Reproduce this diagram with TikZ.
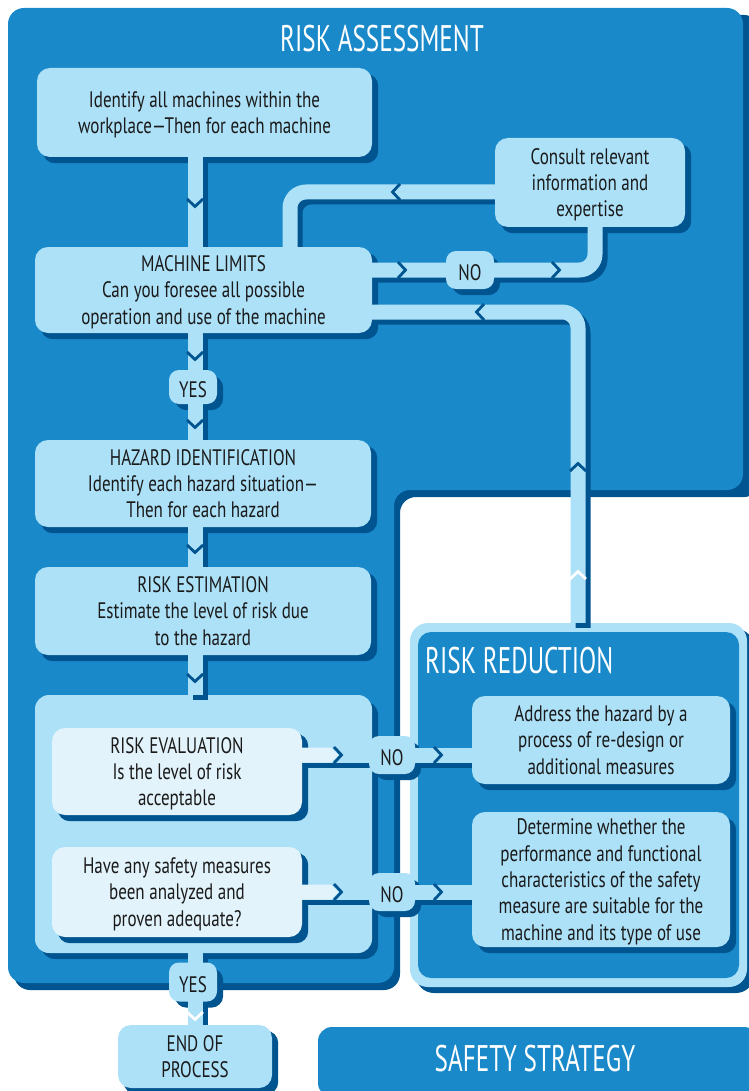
\documentclass[tikz,border=0pt]{standalone}
\usepackage{fontspec}
\setmainfont{PT Sans}[FakeStretch=0.76]
\newfontfamily\headfont{PT Sans}[FakeStretch=0.68]
\usetikzlibrary{calc}
\definecolor{lite}{HTML}{ADE1F8}
\definecolor{mid}{HTML}{1A89C9}
\definecolor{deep}{HTML}{00548F}
\definecolor{pale}{HTML}{E2F3FB}
\definecolor{ink}{HTML}{1A1A1A}
\pgfdeclarelayer{panel}
\pgfdeclarelayer{cshadow}
\pgfdeclarelayer{bands}
\pgfsetlayers{panel,cshadow,bands,main}
\tikzset{
  stepbox/.style={fill=lite, rounded corners=13pt, align=center, inner sep=0pt, text=ink,
                  font=\fontsize{22.4}{26.3}\selectfont, text depth=-7pt},
  palebox/.style={stepbox, fill=pale},
  tag/.style={fill=lite, rounded corners=10pt, inner sep=0pt, text=ink,
              font=\fontsize{22.4}{26}\selectfont,
              execute at begin node={\rule{0pt}{21pt}}},
  title/.style={text=white, inner sep=0pt, font=\headfont\fontsize{37}{40}\selectfont},
  band/.style={draw=lite, line width=15pt, rounded corners=16pt},
  bandshade/.style={draw=deep, line width=15pt, rounded corners=16pt,
                    transform canvas={xshift=5pt,yshift=-5pt}},
  boxshade/.style={fill=deep, rounded corners=12pt,
                   transform canvas={xshift=6pt,yshift=-6pt}},
  chev/.pic={\draw[line width=2.8pt, line join=miter, pic actions] (-4,-8) -- (3.5,0) -- (-4,8);},
}
% a connector: dark offset band underneath, light band on top
\newcommand\link[1]{%
  \begin{pgfonlayer}{cshadow}\draw[bandshade] #1;\end{pgfonlayer}%
  \begin{pgfonlayer}{bands}\draw[band] #1;\end{pgfonlayer}}

\begin{document}
\begin{tikzpicture}[x=1pt,y=-1pt]
\useasboundingbox (0,0) rectangle (748,1091);

% ---------- panels ----------
\begin{pgfonlayer}{panel}
  % risk assessment (L-shaped)
  \fill[deep, rounded corners=16pt] (14,15) -- (760,15) -- (760,497) -- (400,497)
        -- (400,990) -- (14,990) -- cycle;
  \fill[mid, rounded corners=16pt] (8,8) -- (743,8) -- (743,490) -- (394,490)
        -- (394,983) -- (8,983) -- cycle;
  \node[title] (ratitle) at (382,39) {RISK ASSESSMENT};

  % evaluation group
  \fill[deep, rounded corners=14pt] (41,701) rectangle (378,959);
  \node[fill=lite, rounded corners=14pt, minimum width=337pt, minimum height=258pt,
        inner sep=0pt] (cont) at (203.5,824) {};

  % risk reduction
  \fill[deep, rounded corners=18pt] (416,629) rectangle (754,993);
  \node[fill=lite, rounded corners=18pt, minimum width=337pt, minimum height=364pt,
        inner sep=0pt] (reduct) at (578.5,805) {};
  \fill[mid, rounded corners=13pt] (418,632) rectangle (739,978);
  \node[title, anchor=west] (rrtitle) at (425,661) {RISK REDUCTION};

  % safety strategy
  \fill[deep, rounded corners=14pt] (324,1033) rectangle (756,1100);
  \node[fill=mid, rounded corners=14pt, minimum width=440pt, minimum height=70pt,
        inner sep=0pt] (strategy) at (538,1062) {};
  \node[title] (sstitle) at (535,1059) {SAFETY STRATEGY};
\end{pgfonlayer}

% ---------- steps ----------
\node[stepbox, minimum width=335pt, minimum height=89pt] (ident) at (204.5,112.5)
  {Identify all machines within the\\workplace—Then for each machine};
\node[stepbox, minimum width=337pt, minimum height=86pt] (limits) at (203.5,290)
  {MACHINE LIMITS\\Can you foresee all possible\\operation and use of the machine};
\node[stepbox, minimum width=336pt, minimum height=87pt] (hazard) at (203,483.5)
  {HAZARD IDENTIFICATION\\Identify each hazard situation—\\Then for each hazard};
\node[stepbox, minimum width=336pt, minimum height=88pt] (estim) at (203,611)
  {RISK ESTIMATION\\Estimate the level of risk due\\to the hazard};
\node[palebox, minimum width=250pt, minimum height=87pt] (evalb) at (177,771.5)
  {RISK EVALUATION\\Is the level of risk\\acceptable};
\node[palebox, minimum width=250pt, minimum height=90pt] (proven) at (177,892)
  {Have any safety measures\\been analyzed and\\proven adequate?};
\node[stepbox, minimum width=190pt, minimum height=89pt] (consult) at (590,182.5)
  {Consult relevant\\information and\\expertise};
\node[stepbox, minimum width=258pt, minimum height=88pt] (address) at (601,740)
  {Address the hazard by a\\process of re-design or\\additional measures};
\node[stepbox, minimum width=258pt, minimum height=135pt] (determine) at (601,879.5)
  {Determine whether the\\performance and functional\\characteristics of the safety\\measure are suitable for the\\machine and its type of use};
\node[stepbox, minimum width=154pt, minimum height=63pt] (endp) at (195,1056.5)
  {END OF\\PROCESS};

% ---------- answer tags ----------
\node[tag, minimum width=48pt, minimum height=34pt] (yes1) at (193,387) {YES};
\node[tag, minimum width=48pt, minimum height=38pt] (no1) at (470,270) {NO};
\node[tag, minimum width=46pt, minimum height=38pt] (no2) at (392,755) {NO};
\node[tag, minimum width=46pt, minimum height=38pt] (no3) at (392,892) {NO};
\node[tag, minimum width=48pt, minimum height=39pt] (yes2) at (193,982) {YES};

% ---------- shadows of boxes and tags ----------
\begin{pgfonlayer}{cshadow}
  \foreach \n in {ident,limits,hazard,estim,evalb,proven,consult,address,determine,endp,
                  yes1,no1,no2,no3,yes2}
    {\fill[boxshade] (\n.north west) rectangle (\n.south east);}
\end{pgfonlayer}

% ---------- connectors ----------
\coordinate (vx) at (195,0);
\link{(vx |- ident.south) -- (vx |- limits.north)}
\link{(vx |- limits.south) -- (vx |- hazard.north)}
\link{(vx |- hazard.south) -- (vx |- estim.north)}
\link{(vx |- estim.south) -- (vx |- cont.north)}
\link{(vx |- cont.south) -- (vx |- endp.north)}

\coordinate (r1) at (0,270);  \coordinate (c1) at (595,0);
\link{(limits.east |- r1) -- (c1 |- r1) -- (c1 |- consult.south)}
\coordinate (r2) at (0,192);  \coordinate (c2) at (290,0);
\link{(consult.west |- r2) -- (c2 |- r2) -- (c2 |- limits.north)}
\coordinate (r3) at (0,312);  \coordinate (c3) at (578,0);
\link{(c3 |- reduct.north) -- (c3 |- r3) -- (limits.east |- r3)}
\coordinate (r4) at (0,755);  \coordinate (r5) at (0,892);
\link{(evalb.east |- r4) -- (address.west |- r4)}
\link{(proven.east |- r5) -- (determine.west |- r5)}

\begin{pgfonlayer}{bands}
  % pale tabs leaving the evaluation questions
  \fill[pale] (evalb.east |- 0,747.5) -- (331,747.5) -- (338.5,755) -- (331,762.5)
        -- (evalb.east |- 0,762.5) -- cycle;
  \fill[pale] (proven.east |- 0,884.5) -- (331,884.5) -- (338.5,892) -- (331,899.5)
        -- (proven.east |- 0,899.5) -- cycle;

  % direction chevrons
  \pic[draw=deep, rotate=-90] at (195,203) {chev};
  \pic[draw=deep, rotate=-90] at (195,356) {chev};
  \pic[draw=deep, rotate=-90] at (195,424) {chev};
  \pic[draw=deep, rotate=-90] at (195,549) {chev};
  \pic[draw=deep, rotate=-90] at (195,678) {chev};
  \pic[draw=white, rotate=-90] at (195,1016) {chev};
  \pic[draw=deep] at (402,270) {chev};
  \pic[draw=deep] at (556,270) {chev};
  \pic[draw=deep, rotate=180] at (396,192) {chev};
  \pic[draw=white, rotate=90] at (578,575) {chev};
  \pic[draw=deep, rotate=90] at (578,467) {chev};
  \pic[draw=deep, rotate=180] at (480,312) {chev};
  \pic[draw=deep] at (338,755) {chev};
  \pic[draw=deep] at (438,755) {chev};
  \pic[draw=deep] at (338,892) {chev};
  \pic[draw=deep] at (438,892) {chev};
\end{pgfonlayer}
\end{tikzpicture}
\end{document}
